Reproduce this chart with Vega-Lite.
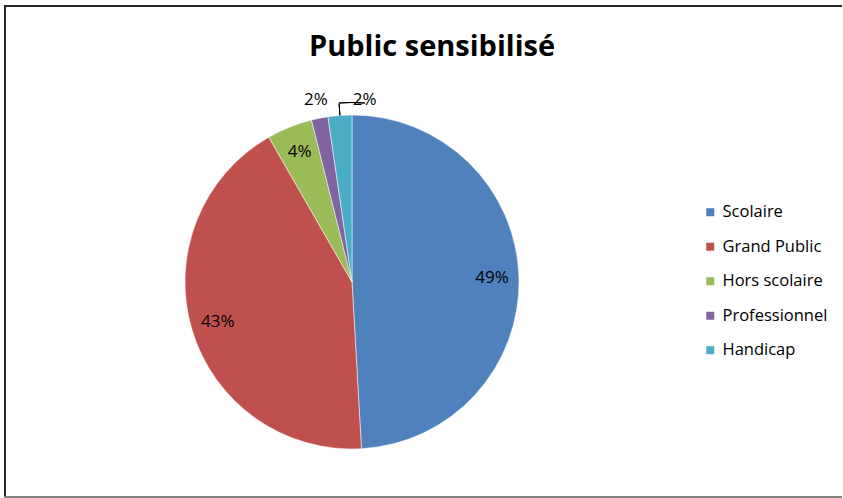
{
  "$schema": "https://vega.github.io/schema/vega-lite/v6.json",
  "background": "white",
  "padding": {"left": 4, "top": 5, "right": 0, "bottom": 0},
  "config": {
    "view": {"stroke": null},
    "font": "Open Sans"
  },
  "datasets": {
    "public": [
      {"cat": "Scolaire", "part": 0.491, "rang": 1},
      {"cat": "Grand Public", "part": 0.426, "rang": 2},
      {"cat": "Hors scolaire", "part": 0.044, "rang": 3},
      {"cat": "Professionnel", "part": 0.016, "rang": 4},
      {"cat": "Handicap", "part": 0.023, "rang": 5}
    ],
    "cadre": [{"bord": "trait"}]
  },
  "spacing": 0,
  "resolve": {"scale": {"color": "independent"}, "legend": {"color": "independent"}},
  "vconcat": [
    {
      "width": 838,
      "height": 2,
      "data": {"name": "cadre"},
      "mark": {"type": "rect", "color": "#262626"},
      "encoding": {}
    },
    {
      "spacing": 0,
      "resolve": {"scale": {"color": "independent"}, "legend": {"color": "independent"}},
      "hconcat": [
        {
          "width": 2,
          "height": 489,
          "data": {"name": "cadre"},
          "mark": {"type": "rect", "color": "#262626"},
          "encoding": {}
        },
        {
          "spacing": 0,
          "resolve": {"scale": {"color": "independent"}, "legend": {"color": "independent"}},
          "vconcat": [
            {
              "width": 836,
              "height": 61,
              "data": {"values": [{"titre": "Public sensibilisé"}]},
              "mark": {"type": "text", "font": "Open Sans", "fontWeight": "bold", "fontSize": 29, "baseline": "alphabetic", "dx": 8, "dy": 18, "color": "#000000"},
              "encoding": {"text": {"field": "titre", "type": "nominal"}}
            },
            {
              "spacing": 0,
              "resolve": {"scale": {"color": "independent"}, "legend": {"color": "independent"}},
              "hconcat": [
                {
                  "width": 692,
                  "height": 428,
                  "data": {"name": "public"},
                  "encoding": {
                    "theta": {"field": "part", "type": "quantitative", "stack": true},
                    "order": {"field": "rang", "type": "quantitative"}
                  },
                  "layer": [
                    {
                      "mark": {"type": "arc", "radius": 167, "stroke": "white", "strokeWidth": 0.5},
                      "encoding": {
                        "color": {
                          "field": "cat",
                          "type": "nominal",
                          "scale": {
                            "domain": ["Scolaire", "Grand Public", "Hors scolaire", "Professionnel", "Handicap"],
                            "range": ["#4F81BD", "#C0504D", "#9BBB59", "#8064A2", "#4BACC6"]
                          },
                          "legend": null
                        }
                      }
                    },
                    {
                      "mark": {"type": "text", "radius": 140, "font": "Open Sans", "fontSize": 17},
                      "encoding": {
                        "detail": {"field": "cat", "type": "nominal"},
                        "fill": {"value": "#000000"},
                        "text": {"field": "part", "type": "quantitative", "format": ".0%"},
                        "opacity": {"condition": {"test": "datum.rang > 3", "value": 0}, "value": 1}
                      }
                    },
                    {
                      "mark": {"type": "text", "radius": 186, "font": "Open Sans", "fontSize": 17},
                      "encoding": {
                        "detail": {"field": "cat", "type": "nominal"},
                        "fill": {"value": "#000000"},
                        "text": {"field": "part", "type": "quantitative", "format": ".0%"},
                        "opacity": {"condition": {"test": "datum.rang === 4", "value": 1}, "value": 0}
                      }
                    },
                    {
                      "mark": {"type": "text", "radius": 184, "font": "Open Sans", "fontSize": 17, "dx": 26, "dy": 2},
                      "encoding": {
                        "detail": {"field": "cat", "type": "nominal"},
                        "fill": {"value": "#000000"},
                        "text": {"field": "part", "type": "quantitative", "format": ".0%"},
                        "opacity": {"condition": {"test": "datum.rang === 5", "value": 1}, "value": 0}
                      }
                    },
                    {
                      "mark": {"type": "arc", "radius": 179, "radius2": 167, "padAngle": 1, "fill": null, "stroke": "#000000", "strokeWidth": 1},
                      "encoding": {
                        "detail": {"field": "cat", "type": "nominal"},
                        "strokeOpacity": {"condition": {"test": "datum.rang === 5", "value": 1}, "value": 0}
                      }
                    },
                    {
                      "mark": {"type": "arc", "radius": 179.5, "radius2": 179.5, "thetaOffset": 0.0723, "fill": null, "stroke": "#000000", "strokeWidth": 1},
                      "encoding": {
                        "detail": {"field": "cat", "type": "nominal"},
                        "strokeOpacity": {"condition": {"test": "datum.rang === 5", "value": 1}, "value": 0}
                      }
                    }
                  ]
                },
                {
                  "width": 144,
                  "height": 428,
                  "data": {"name": "public"},
                  "mark": {"type": "text", "opacity": 0},
                  "encoding": {
                    "text": {"value": ""},
                    "color": {
                      "field": "cat",
                      "type": "nominal",
                      "scale": {
                        "domain": ["Scolaire", "Grand Public", "Hors scolaire", "Professionnel", "Handicap"],
                        "range": ["#4F81BD", "#C0504D", "#9BBB59", "#8064A2", "#4BACC6"]
                      },
                      "legend": {
                        "title": null,
                        "orient": "none",
                        "legendX": 4,
                        "legendY": 136,
                        "padding": 0,
                        "symbolType": "square",
                        "symbolSize": 64,
                        "symbolStrokeWidth": 0,
                        "symbolOpacity": 1,
                        "labelFont": "Open Sans",
                        "labelFontSize": 16.5,
                        "labelColor": "#000000",
                        "labelOffset": 4,
                        "rowPadding": 17.5
                      }
                    }
                  }
                }
              ]
            }
          ]
        }
      ]
    },
    {
      "width": 838,
      "height": 2,
      "data": {"name": "cadre"},
      "mark": {"type": "rect", "color": "#808080"},
      "encoding": {}
    }
  ]
}
